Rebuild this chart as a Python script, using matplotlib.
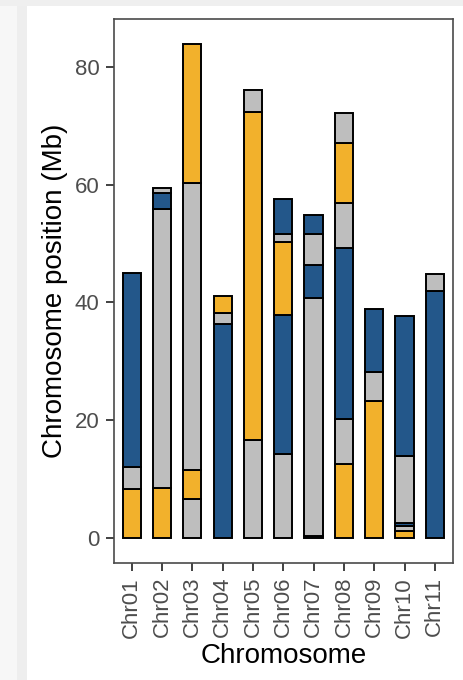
import matplotlib
matplotlib.use("Agg")
import matplotlib.pyplot as plt
from matplotlib.patches import Rectangle

plt.rcParams['font.family'] = ['Liberation Sans', 'DejaVu Sans']

chromosomes = ["Chr01", "Chr02", "Chr03", "Chr04", "Chr05", "Chr06",
               "Chr07", "Chr08", "Chr09", "Chr10", "Chr11"]

# segments: chromosome index, start (Mb), end (Mb), class
seg_chrom = [0, 0, 0,
             1, 1, 1, 1,
             2, 2, 2, 2,
             3, 3, 3,
             4, 4, 4,
             5, 5, 5, 5, 5,
             6, 6, 6, 6, 6,
             7, 7, 7, 7, 7, 7,
             8, 8, 8,
             9, 9, 9, 9, 9,
             10, 10]
seg_start = [0.0, 8.4, 12.1,
             0.0, 8.5, 55.9, 58.6,
             0.0, 6.6, 11.5, 60.3,
             0.0, 36.4, 38.3,
             0.0, 16.7, 72.4,
             0.0, 14.3, 37.8, 50.2, 51.7,
             0.0, 0.3, 40.8, 46.4, 51.6,
             0.0, 12.6, 20.3, 49.3, 56.8, 67.1,
             0.0, 23.3, 28.2,
             0.0, 1.2, 2.0, 2.6, 13.9,
             0.0, 42.0]
seg_end = [8.4, 12.1, 45.0,
           8.5, 55.9, 58.6, 59.5,
           6.6, 11.5, 60.3, 83.9,
           36.4, 38.3, 41.1,
           16.7, 72.4, 76.1,
           14.3, 37.8, 50.2, 51.7, 57.5,
           0.3, 40.8, 46.4, 51.6, 54.8,
           12.6, 20.3, 49.3, 56.8, 67.1, 72.2,
           23.3, 28.2, 38.9,
           1.2, 2.0, 2.6, 13.9, 37.7,
           42.0, 44.8]
seg_class = ["Y", "G", "B",
             "Y", "G", "B", "G",
             "G", "Y", "G", "Y",
             "B", "G", "Y",
             "G", "Y", "G",
             "G", "B", "Y", "G", "B",
             "B", "G", "B", "G", "B",
             "Y", "G", "B", "G", "Y", "G",
             "Y", "G", "B",
             "Y", "G", "B", "G", "B",
             "B", "G"]

palette = {"B": "#23578A", "G": "#BEBEBE", "Y": "#F2B12C"}

fig = plt.figure(figsize=(4.63, 6.80), dpi=100)
fig.patch.set_facecolor("white")
# screenshot margins
fig.patches.append(Rectangle((0, 0), 17/463, 1, transform=fig.transFigure,
                             facecolor="#F7F7F7", edgecolor="none", zorder=-10))
fig.patches.append(Rectangle((17/463, 0), 10/463, 1, transform=fig.transFigure,
                             facecolor="#EEEEEE", edgecolor="none", zorder=-10))
fig.patches.append(Rectangle((0, 1 - 6/680), 1, 6/680, transform=fig.transFigure,
                             facecolor="#EFEFEF", edgecolor="none", zorder=-10))

ax = fig.add_axes([113.5/463, 1 - 563/680, (453 - 113.5)/463, (563 - 19)/680])

heights = [e - s for s, e in zip(seg_start, seg_end)]
colors = [palette[c] for c in seg_class]
ax.bar(seg_chrom, heights, bottom=seg_start, width=0.6, color=colors,
       edgecolor="black", linewidth=1.4, zorder=2)

ax.set_xlim(-0.6, len(chromosomes) - 0.4)
ax.set_ylim(-4.2, 88.1)
ax.set_xticks(range(len(chromosomes)))
ax.set_xticklabels(chromosomes, rotation=90, fontsize=16, color="#4D4D4D")
ax.set_yticks([0, 20, 40, 60, 80])
ax.set_yticklabels(["0", "20", "40", "60", "80"], fontsize=16, color="#4D4D4D")
ax.tick_params(axis="both", length=6, width=1.3, color="#333333", pad=4)
for sp in ax.spines.values():
    sp.set_color("#4A4A4A")
    sp.set_linewidth(1.2)

ax.set_xlabel("Chromosome", fontsize=20, labelpad=4)
ax.set_ylabel("Chromosome position (Mb)", fontsize=20, labelpad=5)

fig.savefig("out.png", dpi=100)
